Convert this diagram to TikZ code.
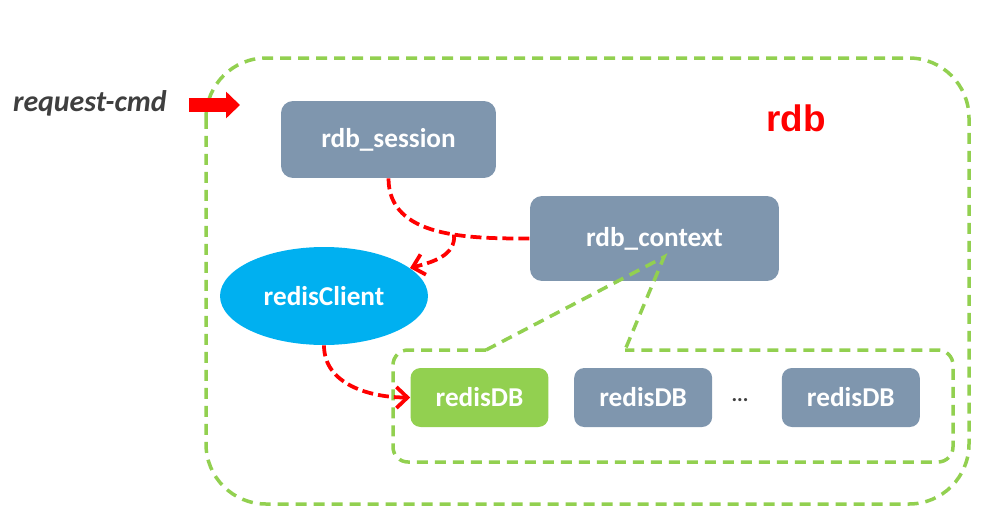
\documentclass[tikz,border=0pt]{standalone}
\usepackage{fontspec}
\setmainfont{Carlito}
\newfontfamily\arialfont{Liberation Sans}
\usetikzlibrary{arrows.meta,shapes.geometric,positioning}
\definecolor{boxgray}{HTML}{7F96AE}
\definecolor{dbgreen}{HTML}{92D050}
\definecolor{clientblue}{HTML}{00B0F0}
\definecolor{textgray}{HTML}{3F3F3F}
\begin{document}
\begin{tikzpicture}[x=0.02cm, y=0.02cm]
	    \tikzset{>={Straight Barb[length=0.22cm,width=0.42cm]}}
	    \tikzset{
	      graybox/.style={rectangle, rounded corners=0.24cm, fill=boxgray, text=white, font=\fontsize{15.5}{18}\selectfont\bfseries},
	      dbbox/.style={graybox, rounded corners=0.2cm, minimum width=2.76cm, minimum height=1.18cm},
	      reddash/.style={draw=red, line width=0.075cm, dash pattern=on 0.22cm off 0.1cm},
	      greendash/.style={draw=dbgreen, line width=0.07cm, dash pattern=on 0.22cm off 0.14cm}
	    }
	    \useasboundingbox (0,0) rectangle (995,-518);
	    \draw [greendash, rounded corners=1.2cm] (206,-58) rectangle (969,-504);
	    \node [anchor=east, inner sep=0pt, text=textgray, font=\fontsize{17}{20}\selectfont\bfseries\itshape] (cmd) at (167,-103) {request-cmd};
	    \coordinate (cmdtail) at ([xshift=0.44cm,yshift=-0.04cm]cmd.east);
	    \draw [red, line width=0.28cm, -{Triangle[length=0.28cm 0 0, width=0.52cm 0 0]}] (cmdtail) -- ++(51,0) coordinate (cmdtip);
	    \node [text=red, font=\arialfont\bfseries\fontsize{21}{24}\selectfont] (rdblabel) at (796,-118) {rdb};
	    \node [graybox, minimum width=4.3cm, minimum height=1.54cm] (session) at (388.5,-139.5) {rdb\_session};
	    \node [graybox, minimum width=4.98cm, minimum height=1.7cm] (context) at (654.5,-238.5) {rdb\_context};
	    \node [ellipse, fill=clientblue, text=white, font=\fontsize{15.5}{18}\selectfont\bfseries, minimum width=4.16cm, minimum height=1.96cm] (client) at (324,-296) {redisClient};
	    \node [dbbox, fill=dbgreen] (db1) at (479.5,-397.5) {redisDB};
	    \node [dbbox, right=0.5cm of db1] (db2) {redisDB};
	    \node [dbbox, right=1.38cm of db2] (db3) {redisDB};
	    \node [text=textgray, font=\fontsize{12}{14}\selectfont\bfseries] (dots) at (740,-400) {...};
	    \coordinate (apex) at ([xshift=0.19cm,yshift=-0.37cm]context.center);
	    \draw [greendash, rounded corners=0.3cm] (486,-350) -| (393,-462) -| (953,-350) -- (625,-350);
	    \draw [greendash] (486,-350) -- (apex) -- (625,-350);
	    \draw [reddash] (session.south) to[out=-90, in=180] coordinate[pos=0.6] (split) (context.west);
	    \draw [reddash, ->] (split) to[out=-85, in=15] (client.18);
	    \draw [reddash, ->] (client.south) to[out=-90, in=180] (db1.west);
\end{tikzpicture}
\end{document}
